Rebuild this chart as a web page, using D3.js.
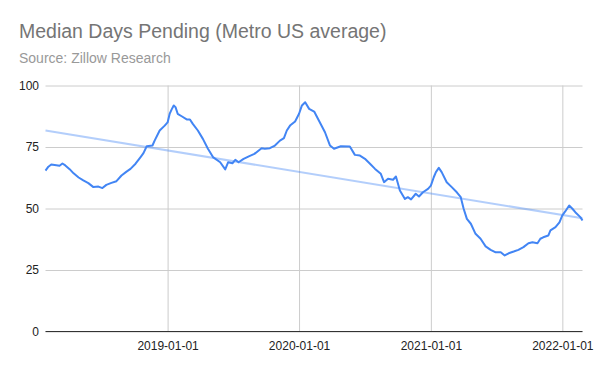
<!DOCTYPE html>
<html>
<head>
<meta charset="utf-8">
<script src="https://cdn.jsdelivr.net/npm/d3@7"></script>
<style>
  body { margin: 0; background: #fff; }
  svg { display: block; font-family: Arial, "Liberation Sans", sans-serif; }
  .grid line { stroke: #ccc; }
  .grid path { display: none; }
  .tick text { fill: #222; font-size: 12px; }
</style>
</head>
<body>
<div id="chart"></div>
<script>
var title = 'Median Days Pending (Metro US average)'
var subtitle = 'Source: Zillow Research'

var dates = [
  '2018-01-27', '2018-02-04', '2018-02-12', '2018-02-26', '2018-03-07', '2018-03-15',
  '2018-03-23', '2018-04-04', '2018-04-15', '2018-04-29', '2018-05-12', '2018-05-26',
  '2018-06-09', '2018-06-23', '2018-07-04', '2018-07-15', '2018-07-29', '2018-08-12',
  '2018-08-26', '2018-09-09', '2018-09-20', '2018-10-04', '2018-10-18', '2018-10-26',
  '2018-11-04', '2018-11-20', '2018-11-26', '2018-12-10', '2018-12-24', '2019-01-01',
  '2019-01-07', '2019-01-12', '2019-01-18', '2019-01-23', '2019-01-29', '2019-02-09',
  '2019-02-23', '2019-03-04', '2019-03-12', '2019-03-26', '2019-04-09', '2019-04-23',
  '2019-05-07', '2019-05-27', '2019-06-10', '2019-06-18', '2019-06-30', '2019-07-08',
  '2019-07-17', '2019-07-31', '2019-08-16', '2019-08-30', '2019-09-19', '2019-09-28',
  '2019-10-12', '2019-10-26', '2019-11-09', '2019-11-20', '2019-11-28', '2019-12-07',
  '2019-12-21', '2020-01-01', '2020-01-09', '2020-01-18', '2020-01-29', '2020-02-12',
  '2020-02-25', '2020-03-13', '2020-03-27', '2020-04-07', '2020-04-26', '2020-05-21',
  '2020-06-04', '2020-06-18', '2020-07-02', '2020-07-16', '2020-07-30', '2020-08-15',
  '2020-08-24', '2020-09-04', '2020-09-18', '2020-09-26', '2020-10-07', '2020-10-21',
  '2020-10-29', '2020-11-07', '2020-11-20', '2020-11-29', '2020-12-10', '2020-12-24',
  '2021-01-01', '2021-01-09', '2021-01-15', '2021-01-23', '2021-01-31', '2021-02-14',
  '2021-02-28', '2021-03-14', '2021-03-25', '2021-04-02', '2021-04-11', '2021-04-22',
  '2021-05-05', '2021-05-19', '2021-06-02', '2021-06-16', '2021-06-30', '2021-07-14',
  '2021-07-25', '2021-08-05', '2021-08-19', '2021-09-01', '2021-09-15', '2021-09-29',
  '2021-10-10', '2021-10-24', '2021-11-01', '2021-11-09', '2021-11-23', '2021-11-29',
  '2021-12-13', '2021-12-24', '2022-01-01', '2022-01-09', '2022-01-20', '2022-01-29',
  '2022-02-06', '2022-02-20', '2022-02-26'
]

var daysPending = [
  65.4, 67.0, 67.9, 67.6, 67.4, 68.3,
  67.5, 66.0, 64.3, 62.6, 61.4, 60.3,
  58.7, 58.9, 58.3, 59.6, 60.4, 61.1,
  63.4, 65.0, 66.1, 68.2, 70.9, 72.5,
  75.3, 75.6, 77.6, 81.7, 83.7, 85.0,
  88.6, 90.2, 91.9, 91.2, 88.5, 87.5,
  86.2, 86.2, 84.4, 81.7, 78.3, 74.3,
  70.9, 68.8, 65.9, 68.8, 68.4, 69.8,
  68.8, 70.2, 71.3, 72.2, 74.5, 74.3,
  74.5, 75.6, 77.6, 78.6, 81.7, 83.7,
  85.4, 88.5, 91.9, 93.2, 90.5, 89.4,
  85.8, 81.0, 75.6, 74.3, 75.3, 75.2,
  71.8, 71.5, 70.2, 68.2, 66.1, 64.1,
  60.7, 62.1, 61.7, 63.0, 57.3, 53.9,
  54.6, 53.7, 56.0, 54.9, 56.6, 58.0,
  59.3, 62.7, 64.8, 66.5, 64.8, 60.7,
  58.7, 56.6, 54.6, 49.9, 45.8, 43.8,
  39.7, 37.7, 34.6, 33.2, 32.2, 32.2,
  30.9, 31.8, 32.5, 33.2, 34.3, 35.9,
  36.3, 35.9, 37.7, 38.3, 39.0, 41.1,
  42.4, 44.4, 47.2, 48.8, 51.2, 49.9,
  48.5, 46.5, 45.1
]

var xDomain = ['2018-01-27', '2022-02-26']
var xTicks = ['2019-01-01', '2020-01-01', '2021-01-01', '2022-01-01']
var yTicks = [0, 25, 50, 75, 100]

var WIDTH = 600, HEIGHT = 371
var margin = { top: 85.5, left: 45.5, right: 17.5, bottom: 39.5 }
var innerW = WIDTH - margin.left - margin.right
var innerH = HEIGHT - margin.top - margin.bottom

var parse = d3.utcParse('%Y-%m-%d')
var data = dates.map(function(d, i) {
  return { t: parse(d), v: daysPending[i] }
})

var svg = d3.select('#chart').append('svg')
  .attr('width', WIDTH)
  .attr('height', HEIGHT)

svg.append('text')
  .attr('x', 19)
  .attr('y', 38)
  .attr('fill', '#757575')
  .style('font-size', '19.5px')
  .text(title)

svg.append('text')
  .attr('x', 19)
  .attr('y', 63)
  .attr('fill', '#999')
  .style('font-size', '14px')
  .text(subtitle)

var x = d3.scaleUtc()
  .domain(xDomain.map(parse))
  .range([0, innerW])

var y = d3.scaleLinear()
  .domain([0, 100])
  .range([innerH, 0])

var g = svg.append('g')
  .attr('transform', 'translate(' + margin.left + ',' + margin.top + ')')

// horizontal gridlines + labels
g.append('g')
  .attr('class', 'grid')
  .call(d3.axisLeft(y).tickValues(yTicks).tickSize(-innerW).tickPadding(6))
  .call(function(a) { a.selectAll('.tick text').attr('x', -6.5) })

// vertical gridlines + date labels
g.append('g')
  .attr('class', 'grid')
  .attr('transform', 'translate(0,' + innerH + ')')
  .call(d3.axisBottom(x)
    .tickValues(xTicks.map(parse))
    .tickSize(-innerH)
    .tickPadding(10)
    .tickFormat(d3.utcFormat('%Y-%m-%d')))

// baseline
g.append('line')
  .attr('x1', 0)
  .attr('x2', innerW)
  .attr('y1', y(0))
  .attr('y2', y(0))
  .attr('stroke', '#333')

// linear trendline (least squares)
var xs = data.map(function(d) { return +d.t })
var mx = d3.mean(xs), my = d3.mean(data, function(d) { return d.v })
var num = d3.sum(data, function(d) { return (+d.t - mx) * (d.v - my) })
var den = d3.sum(xs, function(t) { return (t - mx) * (t - mx) })
var slope = num / den
var trend = x.domain().map(function(t) {
  return { t: t, v: my + slope * (+t - mx) }
})

var line = d3.line()
  .x(function(d) { return x(d.t) })
  .y(function(d) { return y(d.v) })

g.append('path')
  .attr('d', line(trend))
  .attr('fill', 'none')
  .attr('stroke', '#4285F4')
  .attr('stroke-opacity', 0.4)
  .attr('stroke-width', 2)

g.append('path')
  .attr('d', line(data))
  .attr('fill', 'none')
  .attr('stroke', '#4285F4')
  .attr('stroke-width', 2)
  .attr('stroke-linejoin', 'round')
</script>
</body>
</html>
